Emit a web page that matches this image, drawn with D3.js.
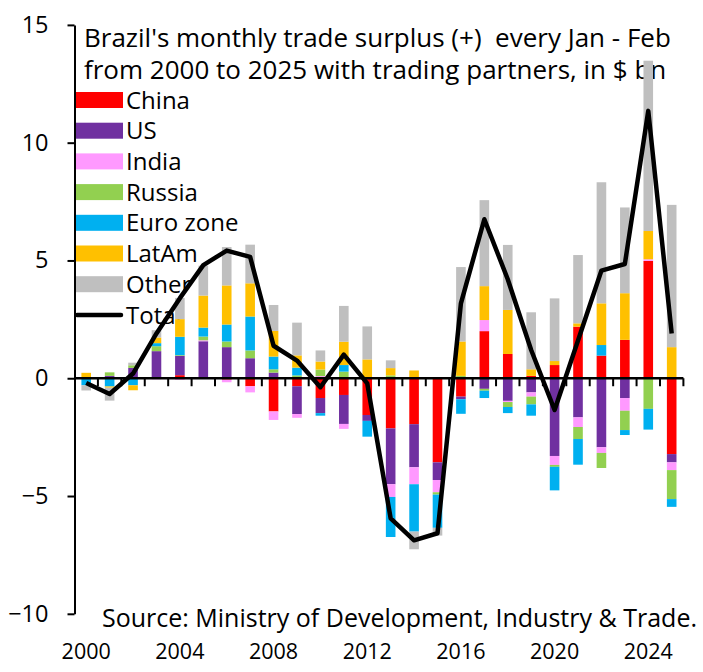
<!DOCTYPE html>
<html>
<head>
<meta charset="utf-8">
<script src="https://cdn.jsdelivr.net/npm/d3@7"></script>
<style>
  body { margin: 0; background: #fff; }
  svg { display: block; font-family: "Open Sans", Lato, sans-serif; }
  text { white-space: pre; }
</style>
</head>
<body>
<div class="plot"></div>
<script>
const years = d3.range(2000, 2026);
const yearLabels = [2000, 2004, 2008, 2012, 2016, 2020, 2024];
const yTicks = [-10, -5, 0, 5, 10, 15];

const seriesNames = ['China', 'US', 'India', 'Russia', 'Euro zone', 'LatAm', 'Other'];
const seriesColors = ['#FF0000', '#7030A0', '#FF99FF', '#92D050', '#00B0F0', '#FFC000', '#BFBFBF'];

// $ bn, Jan-Feb of each year 2000..2025
const china = [0, 0, 0, 0.05, 0.13, 0, -0.06, -0.34, -1.41, -0.34, -0.84, -0.71, -1.56,
  -2.13, -1.95, -3.57, -0.78, 2.0, 1.03, 0.1, 0.56, 2.19, 0.96, 1.63, 4.98, -3.22];
const us = [0, 0.1, 0.44, 1.1, 0.82, 1.57, 1.32, 0.85, 0.24, -1.18, -0.64, -1.23, -0.25,
  -2.37, -1.83, -0.75, -0.11, -0.45, -0.96, -0.6, -3.3, -1.66, -2.93, -0.84, 0, -0.35];
const india = [0, 0, 0, -0.05, -0.07, 0.04, -0.11, -0.26, -0.36, -0.16, 0.09, -0.21, 0,
  -0.54, -0.72, -0.52, 0, 0.47, -0.05, -0.18, -0.38, -0.41, -0.24, -0.54, 0.07, -0.33];
const russia = [0.03, 0.15, 0.11, 0.21, 0.03, 0.16, 0.24, 0.33, 0.14, 0.12, 0.28, 0.28, 0.05,
  0.12, 0, -0.1, 0.1, -0.08, -0.21, -0.33, -0.08, -0.51, -0.64, -0.82, -1.3, -1.23];
const euroZone = [-0.3, -0.35, -0.3, 0.13, 0.78, 0.38, 0.72, 1.44, 0.54, 0.33, -0.11, 0.28, -0.67,
  -1.7, -2.01, -1.41, -0.62, -0.31, -0.26, -0.48, -1.0, -1.09, 0.45, -0.21, -0.88, -0.33];
const latAm = [0.2, -0.05, -0.21, 0.24, 0.75, 1.36, 1.66, 1.41, 1.09, 0.52, 0.34, 0.99, 0.75,
  0.31, 0.33, 0.04, 1.46, 1.44, 1.87, 0.28, 0.17, 0.14, 1.77, 1.98, 1.2, 1.32];
const other = [-0.22, -0.55, 0.11, 0.31, 0.9, 1.27, 1.63, 1.64, 1.1, 1.39, 0.47, 1.52, 1.4,
  0.33, -0.75, -0.33, 3.16, 3.65, 2.76, 2.42, 2.66, 2.9, 5.14, 3.64, 7.23, 6.04];
const total = [-0.2, -0.67, 0.2, 1.9, 3.4, 4.8, 5.42, 5.15, 1.38, 0.75, -0.38, 1.0, -0.22,
  -5.95, -6.88, -6.58, 3.18, 6.75, 4.2, 1.2, -1.35, 1.6, 4.57, 4.85, 11.35, 1.9];

const seriesValues = [china, us, india, russia, euroZone, latAm, other];

const titleLines = [
  "Brazil's monthly trade surplus (+)  every Jan - Feb",
  'from 2000 to 2025 with trading partners, in $ bn'
];
const sourceText = 'Source: Ministry of Development, Industry & Trade.';

const w = 703, h = 672;
const rows = years.map((yr, i) => {
  const r = { year: yr };
  seriesNames.forEach((s, j) => r[s] = seriesValues[j][i]);
  return r;
});

const svg = d3.select('.plot').append('svg')
  .attr('width', w)
  .attr('height', h);

const x = d3.scaleBand()
  .domain(years)
  .range([74.5, 683.4])
  .paddingInner(0.59)
  .paddingOuter(0.295);
const y = d3.scaleLinear()
  .domain([-10, 15])
  .range([613.8, 24.9]);
const color = d3.scaleOrdinal().domain(seriesNames).range(seriesColors);

// Title
svg.append('g').selectAll('text')
  .data(titleLines)
  .join('text')
  .attr('x', 84)
  .attr('y', (d, i) => 47 + i * 32)
  .style('font-size', '26px')
  .text(d => d);

// Legend (sits under the bars)
const legend = svg.append('g');
const legendRows = seriesNames.concat(['Total']);
const lg = legend.selectAll('g')
  .data(legendRows)
  .join('g')
  .attr('transform', (d, i) => `translate(75, ${100 + i * 30.7})`);
lg.filter(d => d !== 'Total').append('rect')
  .attr('x', 0).attr('y', -8)
  .attr('width', 48).attr('height', 16)
  .attr('fill', d => color(d));
lg.filter(d => d === 'Total').append('line')
  .attr('x1', 2).attr('x2', 46)
  .attr('stroke', '#000')
  .attr('stroke-width', 4.5)
  .attr('stroke-linecap', 'round');
lg.append('text')
  .attr('x', 51)
  .attr('dy', '0.36em')
  .style('font-size', '24px')
  .text(d => d);

// Stacked bars, positives up and negatives down
const stack = d3.stack()
  .keys(seriesNames)
  .offset(d3.stackOffsetDiverging);
const layers = stack(rows);

svg.append('g').selectAll('g')
  .data(layers)
  .join('g')
  .attr('fill', d => color(d.key))
  .selectAll('rect')
  .data(d => d)
  .join('rect')
  .attr('x', d => x(d.data.year))
  .attr('width', x.bandwidth())
  .attr('y', d => y(Math.max(d[0], d[1])))
  .attr('height', d => Math.abs(y(d[0]) - y(d[1])));

// Y axis
const yAxis = svg.append('g')
  .attr('transform', 'translate(74.5,0)')
  .call(d3.axisLeft(y).tickValues(yTicks).tickSize(7).tickSizeOuter(0).tickPadding(19));
yAxis.select('.domain').attr('stroke', '#000').attr('stroke-width', 2);
yAxis.selectAll('.tick line').attr('stroke', '#000').attr('stroke-width', 2);
yAxis.selectAll('.tick text')
  .style('font-size', '23.5px')
  .style('font-family', '"Open Sans", Lato, sans-serif')
  .attr('fill', '#000');

// X axis on the zero line, ticks between categories
const xAxis = svg.append('g');
xAxis.append('line')
  .attr('x1', x.range()[0]).attr('x2', x.range()[1])
  .attr('y1', y(0)).attr('y2', y(0))
  .attr('stroke', '#000').attr('stroke-width', 2.5);
xAxis.selectAll('line.tk')
  .data(d3.range(1, years.length + 1))
  .join('line')
  .attr('class', 'tk')
  .attr('x1', i => x.range()[0] + i * x.step())
  .attr('x2', i => x.range()[0] + i * x.step())
  .attr('y1', y(0)).attr('y2', y(0) + 8)
  .attr('stroke', '#000').attr('stroke-width', 2);
xAxis.selectAll('text')
  .data(yearLabels)
  .join('text')
  .attr('x', d => x(d) + x.bandwidth() / 2)
  .attr('y', 659)
  .attr('text-anchor', 'middle')
  .style('font-size', '21.5px')
  .text(d => d);

// Total line
const line = d3.line()
  .x((d, i) => x(years[i]) + x.bandwidth() / 2)
  .y(d => y(d));
svg.append('path')
  .datum(total)
  .attr('d', line)
  .attr('fill', 'none')
  .attr('stroke', '#000')
  .attr('stroke-width', 4.5)
  .attr('stroke-linejoin', 'round');

// Source
svg.append('text')
  .attr('x', 697)
  .attr('y', 627)
  .attr('text-anchor', 'end')
  .style('font-size', '25px')
  .text(sourceText);
</script>
</body>
</html>
